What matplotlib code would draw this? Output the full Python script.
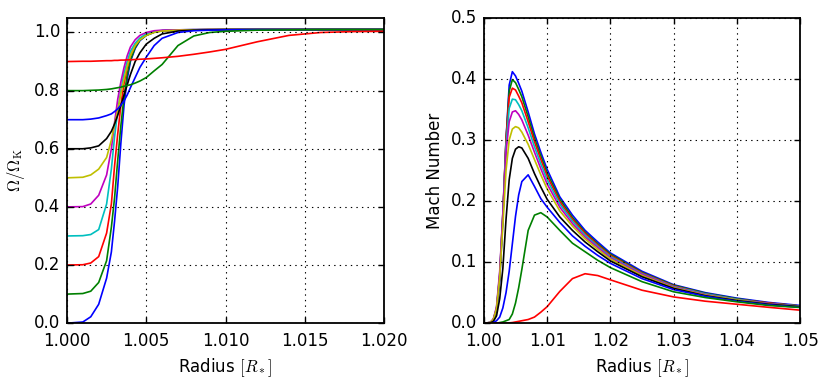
#!/usr/bin/env python3

"""
plot.py

Two panel figure: angular velocity profile and Mach number profile
near the stellar surface, for a set of initial rotation rates.
"""

# Plotting.
import matplotlib
matplotlib.use("Agg") # No display available.
import matplotlib.pyplot as plt


# --- Left panel data: Omega / Omega_K against radius ---
radius_left = [1.000, 1.001, 1.0015, 1.002, 1.0025, 1.0028, 1.003, 1.0032, 1.0034,
               1.0036, 1.0038, 1.004, 1.0043, 1.0046, 1.005, 1.0055, 1.006, 1.007,
               1.008, 1.009, 1.010, 1.012, 1.014, 1.016, 1.018, 1.020]

omega_00 = [0.0, 0.004, 0.022, 0.065, 0.155, 0.245, 0.35, 0.47, 0.62, 0.75, 0.84, 0.90,
            0.945, 0.972, 0.99, 1.001, 1.006, 1.008, 1.009, 1.01, 1.01, 1.01, 1.01, 1.01, 1.01, 1.01]
omega_01 = [0.1, 0.102, 0.11, 0.14, 0.215, 0.33, 0.43, 0.56, 0.68, 0.78, 0.855, 0.905,
            0.948, 0.974, 0.99, 1.001, 1.006, 1.008, 1.009, 1.01, 1.01, 1.01, 1.01, 1.01, 1.01, 1.01]
omega_02 = [0.2, 0.201, 0.207, 0.229, 0.31, 0.41, 0.54, 0.65, 0.75, 0.825, 0.88, 0.92,
            0.955, 0.978, 0.993, 1.002, 1.006, 1.008, 1.009, 1.01, 1.01, 1.01, 1.01, 1.01, 1.01, 1.01]
omega_03 = [0.3, 0.301, 0.305, 0.322, 0.41, 0.53, 0.64, 0.73, 0.80, 0.86, 0.90, 0.935,
            0.963, 0.981, 0.995, 1.003, 1.007, 1.009, 1.01, 1.01, 1.01, 1.01, 1.01, 1.01, 1.01, 1.01]
omega_04 = [0.4, 0.401, 0.41, 0.44, 0.51, 0.60, 0.69, 0.77, 0.83, 0.88, 0.92, 0.95,
            0.975, 0.99, 1.0, 1.006, 1.008, 1.009, 1.01, 1.01, 1.01, 1.01, 1.01, 1.01, 1.01, 1.01]
omega_05 = [0.5, 0.502, 0.51, 0.53, 0.57, 0.63, 0.685, 0.73, 0.79, 0.84, 0.885, 0.92,
            0.955, 0.975, 0.99, 1.0, 1.005, 1.008, 1.009, 1.01, 1.01, 1.01, 1.01, 1.01, 1.01, 1.01]
omega_06 = [0.6, 0.6, 0.603, 0.61, 0.635, 0.66, 0.685, 0.715, 0.75, 0.785, 0.82, 0.855,
            0.90, 0.93, 0.96, 0.98, 0.995, 1.005, 1.008, 1.009, 1.01, 1.01, 1.01, 1.01, 1.01, 1.01]
omega_07 = [0.7, 0.7, 0.702, 0.706, 0.714, 0.72, 0.728, 0.737, 0.75, 0.765, 0.785, 0.81,
            0.845, 0.88, 0.915, 0.955, 0.98, 1.0, 1.006, 1.008, 1.009, 1.01, 1.01, 1.01, 1.01, 1.01]
omega_08 = [0.8, 0.8, 0.801, 0.802, 0.804, 0.806, 0.808, 0.81, 0.812, 0.815, 0.818, 0.82,
            0.826, 0.833, 0.845, 0.868, 0.89, 0.955, 0.988, 1.0, 1.004, 1.008, 1.009, 1.01, 1.01, 1.01]
omega_09 = [0.9, 0.901, 0.901, 0.902, 0.903, 0.903, 0.904, 0.904, 0.905, 0.905, 0.906, 0.906,
            0.907, 0.908, 0.909, 0.911, 0.913, 0.918, 0.925, 0.933, 0.942, 0.968, 0.99, 1.0, 1.003, 1.004]

omega_curves = [omega_00, omega_01, omega_02, omega_03, omega_04,
                omega_05, omega_06, omega_07, omega_08, omega_09]

# --- Right panel data: Mach number against radius ---
radius_right = [1.000, 1.001, 1.0015, 1.002, 1.0025, 1.003, 1.0035, 1.004, 1.0045, 1.005,
                1.0055, 1.006, 1.007, 1.008, 1.009, 1.010, 1.012, 1.014, 1.016, 1.018,
                1.020, 1.025, 1.030, 1.035, 1.040, 1.045, 1.050]

mach_00 = [0.0, 0.001, 0.005, 0.02, 0.07, 0.17, 0.30, 0.39, 0.412, 0.405, 0.393, 0.380, 0.346,
           0.310, 0.280, 0.252, 0.207, 0.177, 0.152, 0.133, 0.115, 0.085, 0.063, 0.050, 0.041, 0.034, 0.029]
mach_01 = [0.0, 0.001, 0.006, 0.022, 0.075, 0.175, 0.30, 0.38, 0.399, 0.394, 0.383, 0.371, 0.338,
           0.303, 0.274, 0.246, 0.203, 0.173, 0.149, 0.130, 0.113, 0.083, 0.062, 0.049, 0.040, 0.033, 0.028]
mach_02 = [0.0, 0.001, 0.006, 0.024, 0.078, 0.18, 0.30, 0.37, 0.385, 0.382, 0.372, 0.361, 0.330,
           0.297, 0.268, 0.241, 0.199, 0.170, 0.147, 0.128, 0.111, 0.082, 0.061, 0.048, 0.039, 0.033, 0.028]
mach_03 = [0.0, 0.001, 0.006, 0.025, 0.08, 0.18, 0.29, 0.352, 0.367, 0.366, 0.358, 0.348, 0.320,
           0.289, 0.261, 0.235, 0.195, 0.167, 0.144, 0.126, 0.109, 0.081, 0.060, 0.048, 0.039, 0.032, 0.028]
mach_04 = [0.0, 0.001, 0.007, 0.027, 0.085, 0.18, 0.28, 0.33, 0.346, 0.348, 0.342, 0.333, 0.308,
           0.280, 0.253, 0.228, 0.190, 0.163, 0.141, 0.124, 0.107, 0.080, 0.059, 0.047, 0.038, 0.032, 0.027]
mach_05 = [0.0, 0.001, 0.006, 0.024, 0.075, 0.16, 0.25, 0.30, 0.318, 0.322, 0.320, 0.313, 0.293,
           0.268, 0.243, 0.220, 0.184, 0.159, 0.138, 0.121, 0.105, 0.078, 0.058, 0.046, 0.038, 0.031, 0.027]
mach_06 = [0.0, 0.0005, 0.003, 0.012, 0.04, 0.09, 0.17, 0.235, 0.27, 0.285, 0.289, 0.287, 0.270,
           0.245, 0.223, 0.203, 0.174, 0.152, 0.133, 0.117, 0.102, 0.076, 0.057, 0.045, 0.037, 0.031, 0.027]
mach_07 = [0.0, 0.0, 0.001, 0.004, 0.01, 0.025, 0.05, 0.085, 0.13, 0.175, 0.21, 0.232, 0.243,
           0.224, 0.204, 0.190, 0.165, 0.143, 0.126, 0.111, 0.098, 0.073, 0.055, 0.044, 0.036, 0.030, 0.026]
mach_08 = [0.0, 0.0, 0.0, 0.0, 0.001, 0.002, 0.004, 0.006, 0.015, 0.033, 0.058, 0.088, 0.152,
           0.177, 0.181, 0.174, 0.152, 0.131, 0.117, 0.103, 0.091, 0.068, 0.0514, 0.042, 0.035, 0.029, 0.0257]
mach_09 = [0.0, 0.0, 0.0, 0.0, 0.0, 0.0, 0.0, 0.0005, 0.001, 0.002, 0.003, 0.004, 0.006,
           0.010, 0.018, 0.027, 0.052, 0.073, 0.081, 0.078, 0.071, 0.054, 0.043, 0.036, 0.031, 0.026, 0.0213]

mach_curves = [mach_00, mach_01, mach_02, mach_03, mach_04,
               mach_05, mach_06, mach_07, mach_08, mach_09]

# Tick labels.
left_xticks = [1.000, 1.005, 1.010, 1.015, 1.020]
left_yticks = [0.0, 0.2, 0.4, 0.6, 0.8, 1.0]
right_xticks = [1.00, 1.01, 1.02, 1.03, 1.04, 1.05]
right_yticks = [0.0, 0.1, 0.2, 0.3, 0.4, 0.5]

# Old matplotlib colour cycle.
colours = ['b', 'g', 'r', 'c', 'm', 'y', 'k']


def style_axis(ax):
    """Classic look: inward ticks on all four sides and a dotted grid."""
    ax.tick_params(direction='in', top=True, right=True, length=4, width=1, labelsize=12)
    ax.tick_params(axis='x', pad=6)
    ax.tick_params(axis='y', pad=5)
    ax.grid(True, linestyle=':', color='k', linewidth=0.8)
    for spine in ax.spines.values():
        spine.set_linewidth(1.3)


def main():
    plt.style.use('classic') # Old style look.
    plt.rcParams['figure.facecolor'] = 'white'
    plt.rcParams['font.size'] = 12
    plt.rcParams['mathtext.fontset'] = 'cm'

    fig = plt.figure(figsize=(8.3, 3.82), dpi=100)
    ax1 = fig.add_axes([0.0807, 0.154, 0.382, 0.799])
    ax2 = fig.add_axes([0.583, 0.154, 0.381, 0.799])

    # --- Left panel ---
    for i, curve in enumerate(omega_curves):
        ax1.plot(radius_left, curve, color=colours[i % len(colours)], linewidth=1.2)
    ax1.set_xlim(1.000, 1.020)
    ax1.set_ylim(0.0, 1.05)
    ax1.set_xticks(left_xticks)
    ax1.set_yticks(left_yticks)
    ax1.set_xticklabels([f"{t:.3f}" for t in left_xticks])
    ax1.set_yticklabels([f"{t:.1f}" for t in left_yticks])
    ax1.set_xlabel(r"Radius $[R_*]$", fontsize=12)
    ax1.set_ylabel(r"$\Omega/\Omega_{\rm K}$", fontsize=12)
    style_axis(ax1)

    # --- Right panel ---
    for i, curve in enumerate(mach_curves):
        ax2.plot(radius_right, curve, color=colours[i % len(colours)], linewidth=1.2)
    ax2.set_xlim(1.00, 1.05)
    ax2.set_ylim(0.0, 0.5)
    ax2.set_xticks(right_xticks)
    ax2.set_yticks(right_yticks)
    ax2.set_xticklabels([f"{t:.2f}" for t in right_xticks])
    ax2.set_yticklabels([f"{t:.1f}" for t in right_yticks])
    ax2.set_xlabel(r"Radius $[R_*]$", fontsize=12)
    ax2.set_ylabel("Mach Number", fontsize=12)
    style_axis(ax2)

    fig.savefig("out.png", dpi=100)
    plt.close(fig)


if __name__ == "__main__":
    main()
